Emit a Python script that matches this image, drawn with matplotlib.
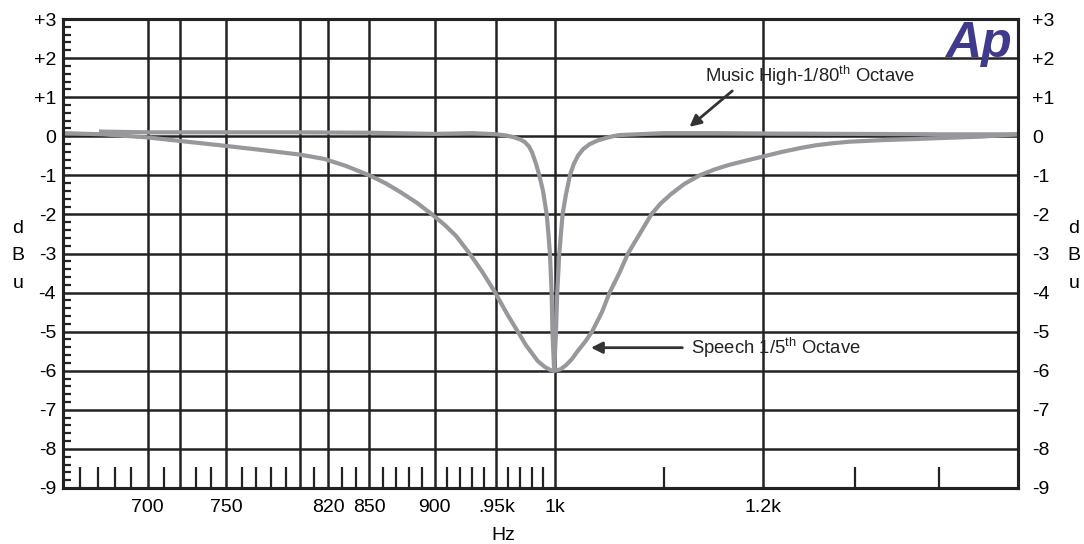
"""
Filter response plot: speech 1/5th octave vs music high 1/80th octave
notch centred on 1 kHz, drawn in the Audio Precision sweep style.
"""
import matplotlib
matplotlib.use("Agg")
import matplotlib.pyplot as plt
from matplotlib.ticker import FixedLocator, NullFormatter

plt.rcParams["font.family"] = ["Liberation Sans", "DejaVu Sans"]
plt.rcParams["mathtext.fontset"] = "custom"
plt.rcParams["mathtext.rm"] = "Liberation Sans"

# ---------------------------------------------------------------------
# data (read off the sweep)
# ---------------------------------------------------------------------
speech_hz = [650, 673, 700, 720, 748, 773, 800, 817, 832, 850, 862, 873,
             886, 898, 908, 917, 928, 939, 949, 959, 965, 970, 975, 980,
             985, 991, 996, 1000, 1005, 1010, 1015, 1020, 1027, 1033, 1042,
             1049, 1058, 1066, 1077, 1088, 1097, 1107, 1120, 1135, 1150,
             1165, 1186, 1203, 1220, 1240, 1257, 1275, 1294, 1331, 1372,
             1410, 1452, 1500]
speech_db = [0.08, 0.05, -0.03, -0.12, -0.24, -0.35, -0.47, -0.58, -0.75,
             -1.0, -1.2, -1.42, -1.7, -2.0, -2.27, -2.55, -3.0, -3.5, -4.0,
             -4.55, -4.85, -5.1, -5.35, -5.55, -5.75, -5.9, -5.98, -6.0,
             -5.96, -5.85, -5.7, -5.5, -5.25, -5.0, -4.5, -4.0, -3.5, -3.0,
             -2.5, -2.0, -1.72, -1.48, -1.22, -1.0, -0.85, -0.73, -0.6,
             -0.5, -0.4, -0.3, -0.23, -0.18, -0.14, -0.1, -0.07, -0.04,
             -0.01, 0.05]

music_hz = [672, 700, 750, 800, 850, 900, 930, 950, 958, 964, 970, 974,
            977.5, 980, 983.5, 986.4, 989.6, 992.8, 994.3, 995.6, 997.1,
            997.8, 999.3, 1000.9, 1002, 1003.8, 1006.7, 1009.6, 1013.2,
            1016.5, 1020.3, 1025, 1031, 1038, 1045, 1052, 1058, 1100, 1150,
            1200, 1300, 1400, 1500]
music_db = [0.12, 0.1, 0.1, 0.1, 0.09, 0.06, 0.08, 0.05, 0.02, -0.02,
            -0.08, -0.15, -0.26, -0.4, -0.7, -1.0, -1.4, -2.0, -2.5, -3.0,
            -4.0, -5.0, -6.0, -5.0, -4.0, -3.0, -2.0, -1.5, -1.0, -0.72,
            -0.5, -0.33, -0.2, -0.11, -0.05, 0.0, 0.03, 0.08, 0.08, 0.07,
            0.06, 0.05, 0.05]

grid_hz = [700, 720, 750, 800, 820, 850, 900, 950, 1000, 1200]
label_hz = [700, 750, 820, 850, 900, 950, 1000, 1200]
label_txt = ["700", "750", "820", "850", "900", ".95k", "1k", "1.2k"]
minor_hz = [660, 670, 680, 690, 710, 730, 740, 760, 770, 780, 790, 810,
            830, 840, 860, 870, 880, 890, 910, 920, 930, 940, 960, 970,
            980, 990, 1100, 1300, 1400]
db_ticks = list(range(-9, 4))
db_labels = [("+%d" % d) if d > 0 else "%d" % d for d in db_ticks]

GRAY = "#98989c"
INK = "#222222"
FS = 14

# ---------------------------------------------------------------------
# figure
# ---------------------------------------------------------------------
fig = plt.figure(figsize=(10.84, 5.44), dpi=100)
ax = fig.add_axes([63 / 1084, 56 / 544, 955 / 1084, 469 / 544])
ax.set_xscale("log")
ax.set_xlim(650, 1500)
ax.set_ylim(-9, 3)

# grid
for f in grid_hz:
    ax.axvline(f, color=INK, lw=1.8, zorder=1)
for d in db_ticks[1:-1]:
    ax.axhline(d, color=INK, lw=1.8, zorder=1)

# curves
ax.plot(music_hz, music_db, color=GRAY, lw=3.0, zorder=3)
ax.plot(speech_hz, speech_db, color=GRAY, lw=3.0, zorder=3)

# x ticks
ax.xaxis.set_major_locator(FixedLocator(label_hz))
ax.set_xticklabels(label_txt)
ax.xaxis.set_minor_locator(FixedLocator(minor_hz))
ax.xaxis.set_minor_formatter(NullFormatter())
ax.tick_params(axis="x", which="major", length=0, pad=8, labelsize=FS)
ax.tick_params(axis="x", which="minor", direction="in", length=15,
               width=1.6, color=INK, top=False)

# y ticks: left side with minor ticks
ax.yaxis.set_major_locator(FixedLocator(db_ticks))
ax.set_yticklabels(db_labels)
ax.yaxis.set_minor_locator(FixedLocator(
    [d / 5 for d in range(-45, 16) if d % 5]))
ax.yaxis.set_minor_formatter(NullFormatter())
ax.tick_params(axis="y", which="major", length=0, pad=5, labelsize=FS)
ax.tick_params(axis="y", which="minor", direction="in", length=6,
               width=1.6, color=INK, left=True, right=False)

# right side labels only
ax2 = ax.twinx()
ax2.set_ylim(-9, 3)
ax2.yaxis.set_major_locator(FixedLocator(db_ticks))
ax2.set_yticklabels(db_labels)
ax2.tick_params(axis="y", length=0, pad=10, labelsize=FS)

for a in (ax, ax2):
    for s in a.spines.values():
        s.set_linewidth(2.2)
        s.set_color(INK)

# axis titles
for x_px in (18, 1074):
    for ch, y_px in zip("dBu", (228, 256, 283)):
        fig.text(x_px / 1084, 1 - y_px / 544, ch, ha="center", va="center",
                 fontsize=FS)
fig.text(503 / 1084, 1 - 535 / 544, "Hz", ha="center", va="center",
         fontsize=FS)

# annotations
arrow = dict(arrowstyle="-|>", color="#333333", lw=2.0, mutation_scale=17,
             shrinkA=0, shrinkB=0)
ax.annotate("", xy=(1125, 0.24), xytext=(1168, 1.16), arrowprops=arrow,
            zorder=5)
ax.text(1140, 1.54, r"Music High-1/80$^{\mathrm{th}}$ Octave",
        ha="left", va="center", fontsize=13.3, color="#222222")
ax.annotate("", xy=(1032, -5.41), xytext=(1118, -5.41), arrowprops=arrow,
            zorder=5)
ax.text(1127, -5.41, r"Speech 1/5$^{\mathrm{th}}$ Octave",
        ha="left", va="center", fontsize=13.3, color="#222222")

# Ap logo
fig.text(1012 / 1084, 1 - 44 / 544, "Ap", ha="right", va="center",
         fontsize=36, fontweight="bold", fontstyle="italic",
         color="#3f3a8c")

fig.savefig("out.png", dpi=100)
